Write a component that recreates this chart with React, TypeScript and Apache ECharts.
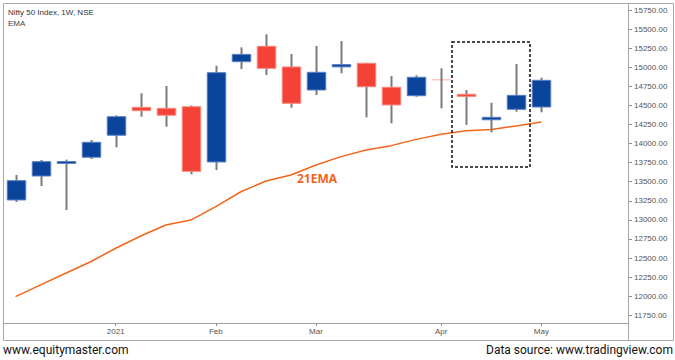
import React, { useEffect, useRef } from "react";
import * as echarts from "echarts";

const categories = [
  "2020-12-07", "2020-12-14", "2020-12-21", "2020-12-28", "2021-01-04", "2021-01-11",
  "2021-01-18", "2021-01-25", "2021-02-01", "2021-02-08", "2021-02-15", "2021-02-22",
  "2021-03-01", "2021-03-08", "2021-03-15", "2021-03-22", "2021-03-29", "2021-04-05",
  "2021-04-12", "2021-04-19", "2021-04-26", "2021-05-03", "2021-05-10", "2021-05-17",
  "2021-05-24",
];

const opens = [13261, 13575, 13740, 13821, 14109, 14475, 14462, 14483, 13759, 15073, 15275, 15004, 14702, 15005, 15052, 14738, 14627, 14838, 14646, 14312, 14449, 14479];
const closes = [13514, 13763, 13765, 14017, 14352, 14431, 14371, 13636, 14929, 15169, 14986, 14528, 14934, 15035, 14745, 14506, 14869, 14832, 14619, 14344, 14632, 14829];
const lows = [13235, 13444, 13130, 13798, 13951, 14352, 14221, 13598, 13654, 14977, 14898, 14470, 14636, 14921, 14344, 14265, 14614, 14462, 14244, 14148, 14418, 14410];
const highs = [13588, 13785, 13790, 14046, 14371, 14659, 14754, 14500, 15020, 15261, 15432, 15173, 15279, 15344, 15060, 14885, 14894, 14986, 14702, 14535, 15042, 14863];
const ema21 = [11994, 12148, 12301, 12452, 12628, 12789, 12933, 12998, 13173, 13369, 13510, 13588, 13719, 13829, 13916, 13973, 14055, 14121, 14169, 14186, 14231, 14283];

const monthLabelDates = ["2021-01-04", "2021-02-01", "2021-03-01", "2021-04-05", "2021-05-03"];
const monthLabels = ["2021", "Feb", "Mar", "Apr", "May"];

const yTicks = [11750, 12000, 12250, 12500, 12750, 13000, 13250, 13500, 13750, 14000, 14250, 14500, 14750, 15000, 15250, 15500, 15750];

const BLUE = "#0b449b";
const BLUE_EDGE = "#5a80c6";
const RED = "#f44336";
const RED_EDGE = "#f8877f";
const WICK = "#7b7b7b";
const ORANGE = "#f3651a";
const FONT = "Liberation Sans";

export default function App() {
  const ref = useRef<HTMLDivElement>(null);

  useEffect(() => {
    if (!ref.current) return;
    const chart = echarts.init(ref.current, undefined, { renderer: "svg" });

    const candleData = opens.map((o, i) => [i, o, closes[i], lows[i], highs[i]]);
    const labelIdx = monthLabelDates.map((d) => categories.indexOf(d));

    const option: any = {
      animation: false,
      backgroundColor: "#ffffff",
      grid: { left: 3, top: 3, width: 626, height: 320, containLabel: false },
      xAxis: {
        type: "category",
        data: categories,
        boundaryGap: true,
        axisLine: { show: true, lineStyle: { color: "#a0a0a0", width: 1 } },
        axisTick: {
          show: true,
          alignWithLabel: true,
          length: 3,
          interval: (idx: number) => labelIdx.includes(idx),
          lineStyle: { color: "#909090" },
        },
        axisLabel: {
          interval: (idx: number) => labelIdx.includes(idx),
          formatter: (v: string) => {
            const k = monthLabelDates.indexOf(v);
            return k >= 0 ? monthLabels[k] : "";
          },
          color: "#555",
          fontSize: 8,
          fontFamily: FONT,
          margin: 4,
        },
        splitLine: { show: false },
      },
      yAxis: {
        type: "value",
        position: "right",
        min: 11649,
        max: 15842,
        axisLine: { show: false },
        axisTick: {
          show: true,
          length: 3,
          customValues: yTicks,
          lineStyle: { color: "#909090" },
        },
        axisLabel: {
          customValues: yTicks,
          formatter: (v: number) => v.toFixed(2),
          color: "#555",
          fontSize: 8,
          fontFamily: FONT,
          margin: 5,
        },
        splitLine: { show: false },
      },
      series: [
        {
          type: "line",
          data: ema21,
          symbol: "none",
          lineStyle: { color: ORANGE, width: 1.5 },
          z: 2,
        },
        {
          type: "custom",
          data: candleData,
          encode: { x: 0, y: [1, 2, 3, 4] },
          z: 3,
          renderItem: (params: any, api: any) => {
            const idx = api.value(0);
            const o = api.value(1);
            const c = api.value(2);
            const l = api.value(3);
            const h = api.value(4);
            const pO = api.coord([idx, o]);
            const pC = api.coord([idx, c]);
            const pL = api.coord([idx, l]);
            const pH = api.coord([idx, h]);
            const x = Math.round(pO[0]) + 0.5;
            const w = api.size([1, 0])[0] * 0.74;
            const up = c >= o;
            let top = Math.min(pO[1], pC[1]);
            let hgt = Math.abs(pO[1] - pC[1]);
            let op = 1;
            if (hgt < 1) {
              op = 0.45;
              top = top - (1 - hgt) / 2;
              hgt = 1;
            }
            return {
              type: "group",
              children: [
                {
                  type: "line",
                  shape: { x1: x, y1: pH[1], x2: x, y2: pL[1] },
                  style: { stroke: WICK, lineWidth: 2 },
                },
                {
                  type: "rect",
                  shape: { x: x - w / 2, y: top, width: w, height: hgt },
                  style: {
                    fill: up ? BLUE : RED,
                    stroke: op < 1 ? null : up ? BLUE_EDGE : RED_EDGE,
                    lineWidth: 1,
                    opacity: op,
                  },
                },
              ],
            };
          },
        },
      ],
      graphic: [
        {
          type: "rect",
          shape: { x: 3.5, y: 3.5, width: 670, height: 337 },
          style: { fill: "none", stroke: "#a8a8a8", lineWidth: 1 },
          z: 10,
        },
        {
          type: "line",
          shape: { x1: 628.5, y1: 3.5, x2: 628.5, y2: 340.5 },
          style: { stroke: "#a8a8a8", lineWidth: 1 },
          z: 10,
        },
        {
          type: "text",
          x: 8,
          y: 8,
          style: { text: "Nifty 50 Index, 1W, NSE", fill: "#333", font: `8px "${FONT}"` },
          z: 10,
        },
        {
          type: "text",
          x: 8,
          y: 19,
          style: { text: "EMA", fill: "#444", font: `8px "${FONT}"` },
          z: 10,
        },
        {
          type: "text",
          x: 297,
          y: 172,
          style: { text: "21EMA", fill: ORANGE, font: `bold 12px "Noto Sans"` },
          z: 10,
        },
        {
          type: "rect",
          shape: { x: 452, y: 42, width: 78, height: 125 },
          style: { fill: "none", stroke: "#111", lineWidth: 1.5, lineDash: [3, 2] },
          z: 10,
        },
        {
          type: "text",
          x: 3,
          y: 344,
          style: { text: "www.equitymaster.com", fill: "#111", font: `12px Roboto` },
          z: 10,
        },
        {
          type: "text",
          x: 673,
          y: 344,
          style: { text: "Data source: www.tradingview.com", fill: "#111", font: `12px Roboto`, align: "right" },
          z: 10,
        },
      ],
    };

    chart.setOption(option);
    return () => chart.dispose();
  }, []);

  return (
    <div
      ref={ref}
      style={{ position: "absolute", left: 0, top: 0, width: 675, height: 360 }}
    />
  );
}
